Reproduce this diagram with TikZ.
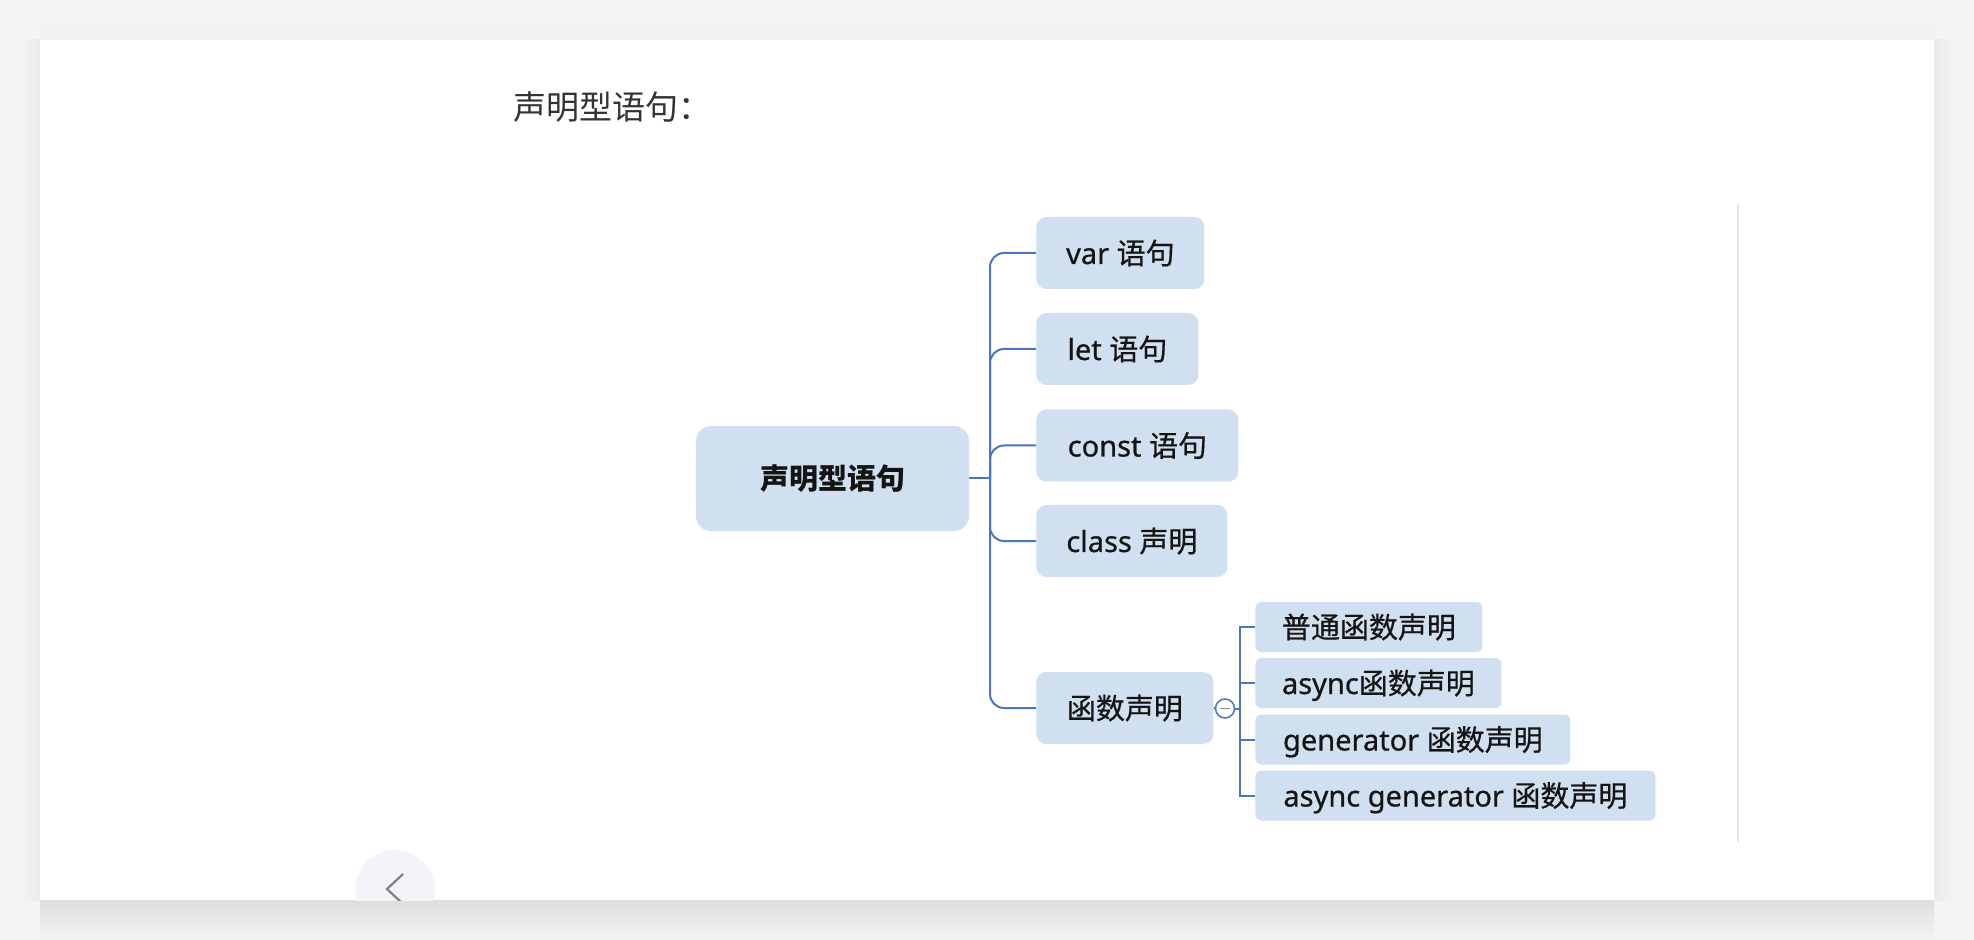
\documentclass[tikz,border=0pt]{standalone}
\usepackage{fontspec}
\setmainfont{Noto Sans}
\newfontfamily\cjk{Noto Sans CJK SC}
\newfontfamily\latm{Noto Sans}[FakeBold=0.6]
\newfontfamily\cjkm{Noto Sans CJK SC}[FakeBold=0.6]
\usetikzlibrary{calc}
\definecolor{bgc}{HTML}{F4F4F4}
\definecolor{boxc}{HTML}{D0E0F0}
\definecolor{linec}{HTML}{4A76C0}
\definecolor{txt}{HTML}{141414}
\definecolor{ttl}{HTML}{333333}
\definecolor{sepc}{HTML}{E6E6E6}
\definecolor{btnc}{HTML}{F3F4F9}
\definecolor{chevc}{HTML}{808080}
\definecolor{minusc}{HTML}{8C7FA8}
\begin{document}
\begin{tikzpicture}[x=0.5pt,y=-0.5pt,
  boxfont/.style={font=\fontsize{14.5pt}{17pt}\selectfont\latm},
  mainbox/.style={boxfont, fill=boxc, rounded corners=5pt, minimum height=36pt, inner sep=0pt, anchor=west, text=txt, text height=12pt, text depth=1pt},
  subbox/.style={boxfont, fill=boxc, rounded corners=3pt, minimum height=25pt, inner sep=0pt, anchor=west, text=txt, text height=12pt, text depth=1pt},
  rootbox/.style={font=\fontsize{14.5pt}{17pt}\selectfont\bfseries, fill=boxc, rounded corners=7.5pt, minimum width=136.5pt, minimum height=52.5pt, inner sep=0pt, text=txt, text height=12pt, text depth=1pt},
  conn/.style={draw=linec, line width=1pt}
]
\useasboundingbox (0,0) rectangle (1974,940);
% page background and card shadow
\fill[bgc] (0,0) rectangle (1974,940);
\shade[top color=black!13, bottom color=bgc] (40,900) rectangle (1934,940);
\shade[left color=bgc, right color=black!8] (18,40) rectangle (40,900);
\shade[left color=black!8, right color=bgc] (1934,40) rectangle (1956,900);
\shade[top color=bgc, bottom color=black!6] (40,22) rectangle (1934,40);
\fill[white] (40,40) rectangle (1934,900);
% back button (clipped by the card)
\begin{scope}
  \clip (40,40) rectangle (1934,900);
  \fill[btnc] (395,890) circle[radius=40];
  \draw[chevc, line width=1.1pt] (403,874) -- (387,889) -- (403,904);
\end{scope}
% separator line
\draw[sepc, line width=0.6pt] (1738,204) -- (1738,842);
% title
\node[anchor=west, inner sep=0pt, text=ttl, font=\fontsize{16.5pt}{20pt}\selectfont] (title) at (513,107) {\cjk 声明型语句：};
% nodes
\node[rootbox] (root) at (832.5,478.5) {\cjk 声明型语句};
\node[mainbox, minimum width=84pt] (var) at (1036,253) {var {\cjkm 语句}};
\node[mainbox, minimum width=81pt] (let) at (1036,349) {let {\cjkm 语句}};
\node[mainbox, minimum width=101pt] (const) at (1036,445.5) {const {\cjkm 语句}};
\node[mainbox, minimum width=95.5pt] (class) at (1036,541) {class {\cjkm 声明}};
\node[mainbox, minimum width=88.5pt] (fn) at (1036,708) {\cjkm 函数声明};
\node[subbox, minimum width=113.5pt] (s1) at (1255,627) {\cjkm 普通函数声明};
\node[subbox, minimum width=123pt] (s2) at (1255,683) {async{\cjkm 函数声明}};
\node[subbox, minimum width=157.5pt] (s3) at (1255,739.5) {generator {\cjkm 函数声明}};
\node[subbox, minimum width=200pt] (s4) at (1255,795.5) {async generator {\cjkm 函数声明}};
% connectors
\coordinate (tr) at (990,478.5);
\draw[conn] (root.east) -- (tr);
\foreach \c in {var,let,const,class,fn}
  \draw[conn, rounded corners=7pt] (tr) |- (\c.west);
\node[circle, draw=linec, fill=white, line width=0.75pt, minimum size=9.5pt, inner sep=0pt] (tog) at (1225,708.5) {};
\draw[minusc, line width=0.9pt] ($(tog.center)+(-5,0)$) -- ($(tog.center)+(5,0)$);
\draw[conn] (fn.east) -- (tog.west);
\coordinate (st) at (1240,708.5);
\draw[conn] (tog.east) -- (st);
\foreach \c in {s1,s2,s3,s4}
  \draw[conn] (st) |- (\c.west);
\end{tikzpicture}
\end{document}
